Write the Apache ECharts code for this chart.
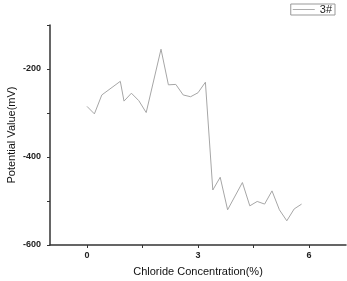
<!DOCTYPE html>
<html>
<head>
<meta charset="utf-8">
<script src="https://cdn.jsdelivr.net/npm/echarts@6/dist/echarts.min.js"></script>
<style>
  html, body { margin: 0; padding: 0; background: #fff; }
  #chart { width: 347px; height: 281px; }
</style>
</head>
<body>
<div id="chart"></div>
<script>
// chloride concentration (%) and potential (mV)
const concentration = [0, 0.2, 0.4, 0.9, 1.0, 1.2, 1.4, 1.6, 2.0, 2.2, 2.4, 2.6, 2.8, 3.0, 3.2,
  3.4, 3.6, 3.8, 4.2, 4.4, 4.6, 4.8, 5.0, 5.2, 5.4, 5.6, 5.8];
const potential = [-285, -302, -259, -228, -273, -255, -272, -299, -155, -236, -235, -259, -263, -254, -230,
  -475, -446, -520, -458, -511, -501, -507, -477, -520, -545, -518, -507];
const xTicks = [0, 1.5, 3, 4.5, 6];
const xLabels = [0, 3, 6];
const yLabels = [-600, -400, -200];

const axisColor = '#333';
const font = 'Arial, "Liberation Sans", sans-serif';

const chart = echarts.init(document.getElementById('chart'));
chart.setOption({
  animation: false,
  legend: {
    right: 12,
    top: 4,
    itemWidth: 22,
    itemHeight: 8,
    itemGap: 3,
    padding: [0, 3, 0, 2],
    borderColor: '#999',
    borderWidth: 1,
    textStyle: { fontSize: 11, color: '#222', fontFamily: font },
    data: [{ name: '3#', icon: 'path://M0,5L24,5L24,6L0,6Z' }]
  },
  grid: { left: 50, top: 25, right: 1, bottom: 36, outerBoundsMode: 'none' },
  xAxis: {
    type: 'value',
    min: -1,
    max: 7,
    name: 'Chloride Concentration(%)',
    nameLocation: 'middle',
    nameGap: 21,
    nameMoveOverlap: false,
    nameTextStyle: { fontSize: 11, color: '#111', fontFamily: font },
    axisLine: { onZero: false, lineStyle: { color: axisColor, width: 1.5 } },
    axisTick: { customValues: xTicks, length: 3, lineStyle: { color: axisColor } },
    axisLabel: { customValues: xLabels, margin: 6, fontSize: 9, fontWeight: 'bold', color: '#222', fontFamily: font },
    splitLine: { show: false }
  },
  yAxis: {
    type: 'value',
    min: -600,
    max: -100,
    interval: 100,
    name: 'Potential Value(mV)',
    nameLocation: 'middle',
    nameGap: 33,
    nameMoveOverlap: false,
    nameTextStyle: { fontSize: 11, color: '#111', fontFamily: font },
    axisLine: { show: true, onZero: false, lineStyle: { color: axisColor, width: 1.5 } },
    axisTick: { show: true, length: 3, lineStyle: { color: axisColor } },
    axisLabel: {
      margin: 9,
      fontSize: 9,
      fontWeight: 'bold',
      color: '#222',
      fontFamily: font,
      formatter: v => (yLabels.indexOf(v) >= 0 ? String(v) : '')
    },
    splitLine: { show: false }
  },
  series: [{
    name: '3#',
    type: 'line',
    symbol: 'none',
    lineStyle: { color: '#a6a6a6', width: 1 },
    itemStyle: { color: '#a6a6a6' },
    data: concentration.map((c, i) => [c, potential[i]])
  }]
});
</script>
</body>
</html>
